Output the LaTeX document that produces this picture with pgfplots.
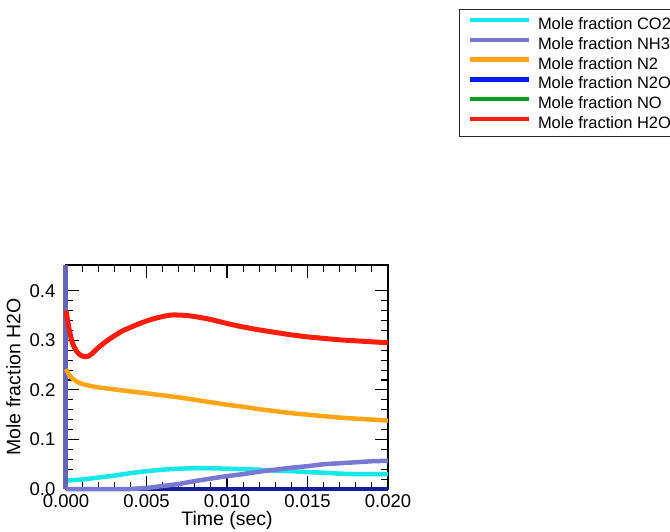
\documentclass[border=0pt]{standalone}
\usepackage{pgfplots}
\pgfplotsset{compat=1.18}
\usepackage{fontspec}
\setmainfont{Liberation Sans}
\definecolor{cCO}{RGB}{20,232,232}
\definecolor{cNH}{RGB}{120,120,210}
\definecolor{cNt}{RGB}{255,165,20}
\definecolor{cNtO}{RGB}{0,30,235}
\definecolor{cNtOp}{RGB}{20,30,150}
\definecolor{cNO}{RGB}{0,160,30}
\definecolor{cHO}{RGB}{250,30,10}
\begin{document}
\begin{tikzpicture}
\path[use as bounding box] (0,0) rectangle (670pt,531pt);
\begin{axis}[
  at={(66pt,42pt)}, anchor=south west,
  scale only axis, width=322pt, height=224pt,
  xmin=0, xmax=0.02, ymin=0, ymax=0.452,
  clip=false,
  axis line style={line width=1.3pt},
  every tick/.style={line width=1.1pt, black},
  major tick length=13pt, minor tick length=7pt,
  tick align=inside,
  xtick={0,0.005,0.01,0.015,0.02},
  ytick={0,0.1,0.2,0.3,0.4},
  minor x tick num=4, minor y tick num=4,
  scaled x ticks=false, scaled y ticks=false,
  /pgf/number format/assume math mode=true,
  xticklabel style={/pgf/number format/.cd, fixed, fixed zerofill, precision=3, /tikz/.cd, inner sep=0pt, yshift=-5pt, font=\fontsize{18.5}{20}\selectfont},
  yticklabel style={/pgf/number format/.cd, fixed, fixed zerofill, precision=1, /tikz/.cd, inner sep=0pt, xshift=-10.5pt, font=\fontsize{18.5}{20}\selectfont},
  every axis x label/.style={at={(axis description cs:0.5,-0.14)}, anchor=center, inner sep=0pt, font=\fontsize{19.5}{21}\selectfont},
  every axis y label/.style={at={(axis description cs:-0.163,0.5)}, rotate=90, anchor=center, inner sep=0pt, font=\fontsize{19.5}{21}\selectfont},
  xlabel={Time (sec)},
  ylabel={Mole fraction H2O},
  legend style={at={(axis description cs:1.2205,2.1429)}, anchor=north west,
    draw=black!85, line width=1pt, fill=white,
    font=\fontsize{16.5}{19}\selectfont,
    inner xsep=8pt, inner ysep=8pt, row sep=7.8pt,
    nodes={inner sep=0pt, text height=12pt, text depth=0pt},
    /tikz/every odd column/.append style={column sep=7pt}},
  legend cell align=left,
]
% legend entries
\addlegendimage{legend image code/.code={\draw[cCO, line width=4.5pt] (0pt,0.35em) -- (59pt,0.35em);}}
\addlegendentry{Mole fraction CO2}
\addlegendimage{legend image code/.code={\draw[cNH, line width=4.5pt] (0pt,0.35em) -- (59pt,0.35em);}}
\addlegendentry{Mole fraction NH3}
\addlegendimage{legend image code/.code={\draw[cNt, line width=4.5pt] (0pt,0.35em) -- (59pt,0.35em);}}
\addlegendentry{Mole fraction N2}
\addlegendimage{legend image code/.code={\draw[cNtO, line width=4.5pt] (0pt,0.35em) -- (59pt,0.35em);}}
\addlegendentry{Mole fraction N2O}
\addlegendimage{legend image code/.code={\draw[cNO, line width=4.5pt] (0pt,0.35em) -- (59pt,0.35em);}}
\addlegendentry{Mole fraction NO}
\addlegendimage{legend image code/.code={\draw[cHO, line width=4.5pt] (0pt,0.35em) -- (59pt,0.35em);}}
\addlegendentry{Mole fraction H2O}
% NO
\addplot[forget plot, cNO, line width=4.5pt] coordinates {(0,0) (0.02,0)};
% N2O
\addplot[forget plot, cNtOp, line width=4.5pt] coordinates {(0,0) (0.005,0) (0.01,0) (0.015,0) (0.02,0)};
% CO2
\addplot[forget plot, cCO, line width=4.5pt] coordinates {
(0,0.017) (0.001,0.019) (0.002,0.023) (0.003,0.027) (0.004,0.032) (0.005,0.036)
(0.006,0.039) (0.007,0.041) (0.008,0.042) (0.009,0.042) (0.010,0.041) (0.011,0.040)
(0.012,0.039) (0.013,0.037) (0.014,0.036) (0.015,0.034) (0.016,0.033) (0.017,0.031)
(0.018,0.030) (0.019,0.030) (0.020,0.030)};
% NH3
\addplot[forget plot, cNH!85!black, line width=5pt] coordinates {(0,0.452) (0,0.0)};
\addplot[forget plot, cNH, line width=4.5pt] coordinates {
(0,0) (0.004,0) (0.0045,0.001) (0.005,0.002) (0.006,0.006) (0.007,0.010) (0.008,0.016)
(0.009,0.021) (0.010,0.026) (0.011,0.030) (0.012,0.035) (0.013,0.039) (0.014,0.043)
(0.015,0.046) (0.016,0.050) (0.017,0.052) (0.018,0.054) (0.019,0.056) (0.020,0.057)};
% N2
\addplot[forget plot, cNt, line width=4.5pt] coordinates {
(0,0.242) (0.0002,0.230) (0.0004,0.223) (0.0007,0.216) (0.001,0.212) (0.0015,0.208)
(0.002,0.205) (0.003,0.201) (0.004,0.197) (0.005,0.193) (0.006,0.189) (0.007,0.185)
(0.008,0.180) (0.009,0.175) (0.010,0.170) (0.011,0.166) (0.012,0.161) (0.013,0.157)
(0.014,0.153) (0.015,0.150) (0.016,0.147) (0.017,0.144) (0.018,0.142) (0.019,0.140)
(0.020,0.138)};
% H2O
\addplot[forget plot, cHO, line width=5pt, smooth] coordinates {
(0,0.36) (0.0001,0.34) (0.0002,0.322) (0.00035,0.300) (0.0005,0.287) (0.0007,0.276)
(0.0009,0.270) (0.0012,0.267) (0.0015,0.270) (0.002,0.285) (0.0025,0.298) (0.003,0.309)
(0.0035,0.319) (0.004,0.326) (0.0045,0.333) (0.005,0.339) (0.0055,0.344) (0.006,0.348)
(0.0065,0.351) (0.007,0.351) (0.0075,0.350) (0.008,0.348) (0.009,0.342) (0.010,0.334)
(0.011,0.327) (0.012,0.321) (0.013,0.316) (0.014,0.311) (0.015,0.307) (0.016,0.304)
(0.017,0.301) (0.018,0.299) (0.019,0.297) (0.020,0.295)};
\end{axis}
\end{tikzpicture}
\end{document}
